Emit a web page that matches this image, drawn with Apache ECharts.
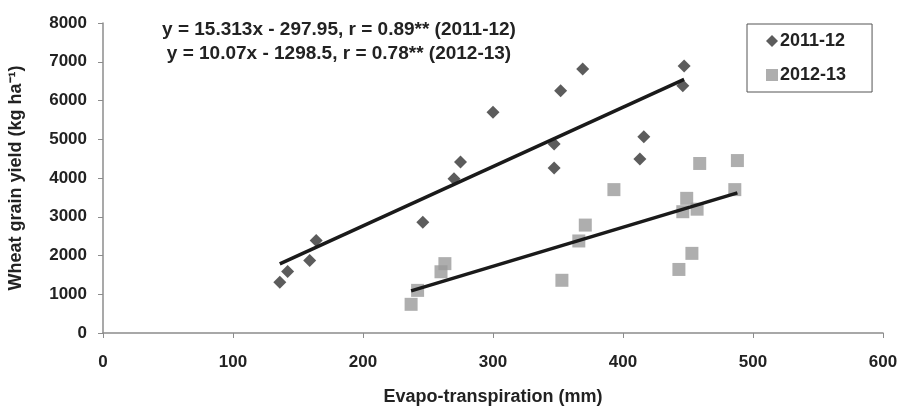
<!DOCTYPE html>
<html>
<head>
<meta charset="utf-8">
<script src="https://cdn.jsdelivr.net/npm/echarts@6/dist/echarts.min.js"></script>
<style>
  html, body { margin: 0; padding: 0; background: #fff; }
  #chart { width: 902px; height: 406px; }
</style>
</head>
<body>
<div id="chart"></div>
<script>
// ET (mm) and grain yield (kg/ha)
var et201112 = [136, 142, 159, 164, 246, 270, 275, 300, 347, 347, 352, 369, 413, 416, 446, 447];
var yield201112 = [1310, 1590, 1870, 2390, 2860, 3980, 4410, 5700, 4880, 4260, 6250, 6815, 4490, 5065, 6380, 6890];
var et201213 = [237, 242, 260, 263, 353, 366, 371, 393, 443, 446, 449, 453, 457, 459, 486, 488];
var yield201213 = [740, 1100, 1580, 1790, 1360, 2375, 2785, 3700, 1640, 3130, 3475, 2055, 3195, 4375, 3700, 4450];

var seriesNames = ['2011-12', '2012-13'];
// regression: slope, intercept
var fit201112 = [15.313, -297.95];
var fit201213 = [10.07, -1298.5];
var equations = [
    'y = 15.313x - 297.95, r = 0.89** (2011-12)',
    'y = 10.07x - 1298.5, r = 0.78** (2012-13)'
];
var xTicks = [0, 100, 200, 300, 400, 500, 600];
var yTicks = [0, 1000, 2000, 3000, 4000, 5000, 6000, 7000, 8000];

function pairs(xs, ys) {
    return xs.map(function(x, i) { return [x, ys[i]]; });
}
function fitLine(xs, fit) {
    var lo = Math.min.apply(null, xs), hi = Math.max.apply(null, xs);
    return [[lo, fit[0] * lo + fit[1]], [hi, fit[0] * hi + fit[1]]];
}

var font = '"Liberation Sans", Arial, sans-serif';
var axisGrey = '#8c8c8c';
var textCol = '#222';

var option = {
    animation: false,
    backgroundColor: '#fff',
    textStyle: { fontFamily: font },
    title: {
        text: equations.join('\n'),
        left: 334,
        top: 13,
        textAlign: 'center',
        textStyle: { fontFamily: font, fontSize: 19, fontWeight: 'bold', color: textCol, lineHeight: 24 }
    },
    legend: {
        orient: 'vertical',
        left: 747,
        top: 24,
        padding: [8, 26, 8, 19],
        itemGap: 16,
        itemWidth: 12,
        itemHeight: 12,
        borderColor: '#555',
        borderWidth: 1,
        textStyle: { fontFamily: font, fontSize: 18, fontWeight: 'bold', color: textCol, padding: [0, 0, 0, -3] },
        data: [
            { name: seriesNames[0], icon: 'diamond' },
            { name: seriesNames[1], icon: 'rect' }
        ]
    },
    grid: { left: 103, right: 19, top: 23, bottom: 73, containLabel: false, outerBoundsMode: 'none' },
    xAxis: {
        type: 'value',
        min: xTicks[0],
        max: xTicks[xTicks.length - 1],
        interval: 100,
        name: 'Evapo-transpiration (mm)',
        nameLocation: 'middle',
        nameGap: 55,
        nameTextStyle: { fontFamily: font, fontSize: 18, fontWeight: 'bold', color: textCol },
        axisLine: { show: true, onZero: false, lineStyle: { color: axisGrey, width: 1.5 } },
        axisTick: { show: true, inside: false, length: 5, lineStyle: { color: axisGrey } },
        axisLabel: { margin: 21, fontFamily: font, fontSize: 17, fontWeight: 'bold', color: textCol },
        splitLine: { show: false }
    },
    yAxis: {
        type: 'value',
        min: yTicks[0],
        max: yTicks[yTicks.length - 1],
        interval: 1000,
        name: 'Wheat grain yield (kg ha\u207B\u00B9)',
        nameLocation: 'middle',
        nameGap: 78,
        nameTextStyle: { fontFamily: font, fontSize: 18, fontWeight: 'bold', color: textCol },
        axisLine: { show: true, lineStyle: { color: axisGrey, width: 1.5 } },
        axisTick: { show: true, inside: false, length: 5, lineStyle: { color: axisGrey } },
        axisLabel: {
            margin: 16, fontFamily: font, fontSize: 17, fontWeight: 'bold', color: textCol,
            formatter: function(v) { return String(v); }
        },
        splitLine: { show: false }
    },
    series: [
        {
            name: seriesNames[0],
            type: 'scatter',
            symbol: 'diamond',
            symbolSize: 13,
            itemStyle: { color: '#333' },
            data: pairs(et201112, yield201112),
            z: 3
        },
        {
            name: seriesNames[1],
            type: 'scatter',
            symbol: 'rect',
            symbolSize: 13,
            itemStyle: { color: '#9a9a9a' },
            data: pairs(et201213, yield201213),
            z: 2
        },
        {
            name: 'fit1',
            type: 'line',
            data: fitLine(et201112, fit201112),
            symbol: 'none',
            lineStyle: { color: '#1a1a1a', width: 3.5 },
            z: 4
        },
        {
            name: 'fit2',
            type: 'line',
            data: fitLine(et201213, fit201213),
            symbol: 'none',
            lineStyle: { color: '#1a1a1a', width: 3.5 },
            z: 4
        }
    ]
};

var chart = echarts.init(document.getElementById('chart'));
chart.setOption(option);
</script>
</body>
</html>
